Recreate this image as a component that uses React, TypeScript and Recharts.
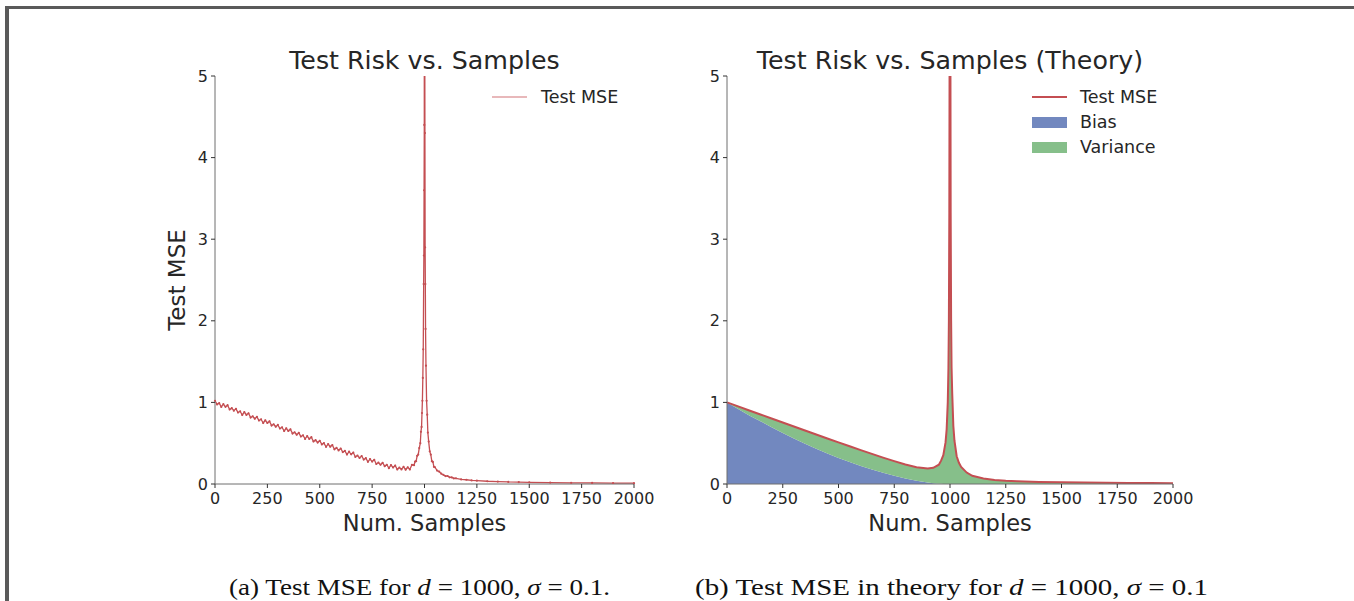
import React from 'react';
import { ComposedChart, Line, Area, XAxis, YAxis, Legend } from 'recharts';

// ---------- data ----------
const X_TICKS = [0, 250, 500, 750, 1000, 1250, 1500, 1750, 2000];
const Y_TICKS = [0, 1, 2, 3, 4, 5];
const TITLES = ['Test Risk vs. Samples', 'Test Risk vs. Samples (Theory)'];

// Empirical test MSE (left panel)
const EMP_N = [
  0, 10, 20, 30, 40, 50, 60, 70, 80, 90,
  100, 110, 120, 130, 140, 150, 160, 170, 180, 190,
  200, 210, 220, 230, 240, 250, 260, 270, 280, 290,
  300, 310, 320, 330, 340, 350, 360, 370, 380, 390,
  400, 410, 420, 430, 440, 450, 460, 470, 480, 490,
  500, 510, 520, 530, 540, 550, 560, 570, 580, 590,
  600, 610, 620, 630, 640, 650, 660, 670, 680, 690,
  700, 710, 720, 730, 740, 750, 760, 770, 780, 790,
  800, 810, 820, 830, 840, 850, 860, 870, 880, 890,
  900, 910, 920, 930, 940, 950, 955, 960, 965, 970,
  975, 980, 983, 986, 988, 990, 992, 994, 996, 997,
  998, 999, 1000, 1001, 1002, 1003, 1004, 1005, 1007, 1010,
  1013, 1016, 1020, 1025, 1030, 1035, 1040, 1045, 1050, 1060,
  1070, 1080, 1090, 1100, 1110, 1120, 1130, 1140, 1150, 1175,
  1200, 1225, 1250, 1300, 1350, 1400, 1450, 1500, 1600, 1700,
  1800, 1900, 2000,
];
const EMP_MSE = [
  1.02, 0.975, 0.99, 0.945, 0.978, 0.946, 0.966, 0.913, 0.929, 0.899,
  0.921, 0.876, 0.891, 0.846, 0.88, 0.847, 0.867, 0.814, 0.83, 0.8,
  0.823, 0.778, 0.793, 0.748, 0.781, 0.748, 0.769, 0.716, 0.732, 0.702,
  0.724, 0.68, 0.695, 0.65, 0.683, 0.65, 0.671, 0.618, 0.634, 0.604,
  0.627, 0.582, 0.597, 0.553, 0.586, 0.553, 0.574, 0.521, 0.537, 0.508,
  0.53, 0.485, 0.501, 0.456, 0.49, 0.457, 0.478, 0.425, 0.442, 0.412,
  0.435, 0.391, 0.406, 0.362, 0.396, 0.364, 0.385, 0.332, 0.349, 0.32,
  0.343, 0.299, 0.316, 0.272, 0.306, 0.275, 0.297, 0.245, 0.263, 0.236,
  0.26, 0.218, 0.236, 0.194, 0.231, 0.202, 0.226, 0.179, 0.201, 0.179,
  0.211, 0.176, 0.205, 0.178, 0.235, 0.231, 0.275, 0.28, 0.345, 0.36,
  0.44, 0.5, 0.64, 0.7, 0.87, 1.02, 1.3, 1.65, 2.45, 2.8,
  3.6, 4.4, 40, 6, 4.3, 2.9, 2.45, 1.9, 1.45, 1.02,
  0.85, 0.63, 0.52, 0.4, 0.36, 0.28, 0.27, 0.21, 0.205, 0.165,
  0.152, 0.126, 0.113, 0.097, 0.098, 0.082, 0.08, 0.068, 0.069, 0.056,
  0.052, 0.044, 0.041, 0.034, 0.03, 0.025, 0.023, 0.02, 0.017, 0.014,
  0.013, 0.011, 0.01,
];

// Theory (right panel)
const TH_N = [
  0, 50, 100, 150, 200, 250, 300, 350, 400, 450,
  500, 550, 600, 650, 700, 750, 800, 850, 900, 925,
  950, 960, 970, 980, 985, 990, 993, 995, 997, 998,
  999, 1000, 1001, 1002, 1003, 1005, 1007, 1010, 1015, 1020,
  1030, 1040, 1050, 1075, 1100, 1150, 1200, 1250, 1300, 1400,
  1500, 1600, 1700, 1800, 1900, 2000,
];
const TH_MSE = [
  1.0, 0.951, 0.901, 0.852, 0.803, 0.753, 0.704, 0.655, 0.607, 0.558,
  0.51, 0.462, 0.415, 0.369, 0.323, 0.28, 0.24, 0.206, 0.19, 0.198,
  0.236, 0.286, 0.353, 0.51, 0.67, 1.0, 1.42, 2.0, 3.33, 5.0,
  10.0, 60, 10, 5.0, 3.33, 2.0, 1.43, 1.11, 0.71, 0.53,
  0.34, 0.26, 0.21, 0.14, 0.1, 0.068, 0.05, 0.04, 0.034, 0.025,
  0.02, 0.017, 0.014, 0.0125, 0.011, 0.01,
];
const TH_BIAS = [
  1.0, 0.92, 0.84, 0.77, 0.695, 0.625, 0.557, 0.494, 0.433, 0.375,
  0.32, 0.27, 0.222, 0.178, 0.138, 0.1, 0.068, 0.04, 0.018, 0.01,
  0.004, 0.002, 0, 0, 0, 0, 0, 0, 0, 0,
  0, 0, 0, 0, 0, 0, 0, 0, 0, 0,
  0, 0, 0, 0, 0, 0, 0, 0, 0, 0,
  0, 0, 0, 0, 0, 0,
];

const empData = EMP_N.map((n, i) => ({ n, mse: EMP_MSE[i] }));
const thData = TH_N.map((n, i) => ({
  n,
  bias: TH_BIAS[i],
  variance: TH_MSE[i] - TH_BIAS[i],
  mse: TH_MSE[i],
}));

// ---------- style ----------
const RED = '#c44e52';
const BLUE = '#7288bf';
const GREEN = '#86bf8a';
const SPINE = '#6e6e6e';
const TEXT = '#262626';
const FONT = '"DejaVu Sans", sans-serif';

const tickStyle = { fill: TEXT, fontSize: 16, fontFamily: FONT };

const xLabel = (props: any) => {
  const vb = props.viewBox || {};
  return (
    <text x={vb.x + vb.width / 2} y={vb.y + 47} textAnchor="middle" fontSize={22.5} fill={TEXT} fontFamily={FONT}>
      Num. Samples
    </text>
  );
};

const yLabel = (props: any) => {
  const vb = props.viewBox || {};
  const x = vb.x + 55;
  const y = vb.y + vb.height / 2;
  return (
    <text x={x} y={y} transform={`rotate(-90 ${x} ${y})`} textAnchor="middle" fontSize={23} fill={TEXT} fontFamily={FONT}>
      Test MSE
    </text>
  );
};

const LeftLegend = () => (
  <svg width={200} height={40} style={{ display: 'block' }}>
    <line x1={12} y1={12} x2={47} y2={12} stroke={RED} strokeWidth={1.2} strokeOpacity={0.8} />
    <text x={61} y={18} fontSize={17.5} fill={TEXT} fontFamily={FONT}>Test MSE</text>
  </svg>
);

const RightLegend = () => (
  <svg width={200} height={80} style={{ display: 'block' }}>
    <line x1={0} y1={12} x2={35} y2={12} stroke={RED} strokeWidth={2} />
    <text x={48} y={18} fontSize={17.5} fill={TEXT} fontFamily={FONT}>Test MSE</text>
    <rect x={0} y={32} width={35} height={11} fill={BLUE} />
    <text x={48} y={43} fontSize={17.5} fill={TEXT} fontFamily={FONT}>Bias</text>
    <rect x={0} y={57} width={35} height={11} fill={GREEN} />
    <text x={48} y={68} fontSize={17.5} fill={TEXT} fontFamily={FONT}>Variance</text>
  </svg>
);

const MARGIN = { top: 36, right: 26, left: 0, bottom: 0 };

export default function App() {
  return (
    <div style={{ position: 'absolute', left: 0, top: 0, width: 1354, height: 601, background: '#fff', overflow: 'hidden' }}>
      <div style={{ position: 'absolute', left: 5, top: 6, width: 1400, height: 700, borderTop: '3px solid #5a5a5a', borderLeft: '4px solid #5a5a5a' }} />

      {/* Left panel */}
      <div style={{ position: 'absolute', left: 130, top: 40 }}>
        <ComposedChart width={530} height={510} data={empData} margin={MARGIN}>
          <XAxis dataKey="n" type="number" domain={[0, 2000]} ticks={X_TICKS} height={66}
            tick={tickStyle} tickSize={4} tickMargin={5}
            tickLine={{ stroke: '#333' }} axisLine={{ stroke: SPINE }} label={{ content: xLabel }} />
          <XAxis xAxisId="top" orientation="top" dataKey="n" type="number" domain={[0, 2000]} height={0}
            tick={false} tickLine={false} axisLine={{ stroke: SPINE }} />
          <YAxis type="number" domain={[0, 5]} ticks={Y_TICKS} allowDataOverflow width={85}
            tick={tickStyle} tickSize={4} tickMargin={3}
            tickLine={{ stroke: '#333' }} axisLine={{ stroke: SPINE }} label={{ content: yLabel }} />
          <YAxis yAxisId="right" orientation="right" type="number" domain={[0, 5]} width={0}
            tick={false} tickLine={false} axisLine={{ stroke: SPINE }} />
          <Legend layout="horizontal" verticalAlign="middle" align="center"
            wrapperStyle={{ left: 350, top: 45, width: 200, height: 40 }} content={() => <LeftLegend />} />
          <Line type="linear" dataKey="mse" name="Test MSE" stroke={RED} strokeWidth={1.3}
            dot={{ r: 1.1, fill: RED, stroke: 'none' }} isAnimationActive={false} />
        </ComposedChart>
      </div>

      {/* Right panel */}
      <div style={{ position: 'absolute', left: 642, top: 40 }}>
        <ComposedChart width={557} height={510} data={thData} margin={MARGIN}>
          <XAxis dataKey="n" type="number" domain={[0, 2000]} ticks={X_TICKS} height={66}
            tick={tickStyle} tickSize={4} tickMargin={5}
            tickLine={{ stroke: '#333' }} axisLine={{ stroke: SPINE }} label={{ content: xLabel }} />
          <XAxis xAxisId="top" orientation="top" dataKey="n" type="number" domain={[0, 2000]} height={0}
            tick={false} tickLine={false} axisLine={{ stroke: SPINE }} />
          <YAxis type="number" domain={[0, 5]} ticks={Y_TICKS} allowDataOverflow width={85}
            tick={tickStyle} tickSize={4} tickMargin={3}
            tickLine={{ stroke: '#333' }} axisLine={{ stroke: SPINE }} />
          <YAxis yAxisId="right" orientation="right" type="number" domain={[0, 5]} width={0}
            tick={false} tickLine={false} axisLine={{ stroke: SPINE }} />
          <Legend layout="horizontal" verticalAlign="middle" align="center"
            wrapperStyle={{ left: 390, top: 45, width: 200, height: 80 }} content={() => <RightLegend />} />
          <Area type="linear" dataKey="bias" name="Bias" stackId="s" stroke="none" fill={BLUE} fillOpacity={1} isAnimationActive={false} />
          <Area type="linear" dataKey="variance" name="Variance" stackId="s" stroke="none" fill={GREEN} fillOpacity={1} isAnimationActive={false} />
          <Line type="linear" dataKey="mse" name="Test MSE" stroke={RED} strokeWidth={2} dot={false} isAnimationActive={false} />
        </ComposedChart>
      </div>

      {/* Titles and captions */}
      <svg style={{ position: 'absolute', left: 0, top: 0, pointerEvents: 'none' }} width={1354} height={601}>
        <text x={424.5} y={69} textAnchor="middle" fontSize={25.3} fill={TEXT} fontFamily={FONT}>{TITLES[0]}</text>
        <text x={950} y={69} textAnchor="middle" fontSize={25.3} fill={TEXT} fontFamily={FONT}>{TITLES[1]}</text>
        <text x={229} y={595} fontSize={23} fill="#111" fontFamily='"Liberation Serif", serif' textLength={381} lengthAdjust="spacingAndGlyphs">
          (a) Test MSE for <tspan fontStyle="italic">d</tspan> = 1000, <tspan fontStyle="italic">σ</tspan> = 0.1.
        </text>
        <text x={695} y={595} fontSize={23} fill="#111" fontFamily='"Liberation Serif", serif' textLength={513} lengthAdjust="spacingAndGlyphs">
          (b) Test MSE in theory for <tspan fontStyle="italic">d</tspan> = 1000, <tspan fontStyle="italic">σ</tspan> = 0.1
        </text>
      </svg>
    </div>
  );
}
